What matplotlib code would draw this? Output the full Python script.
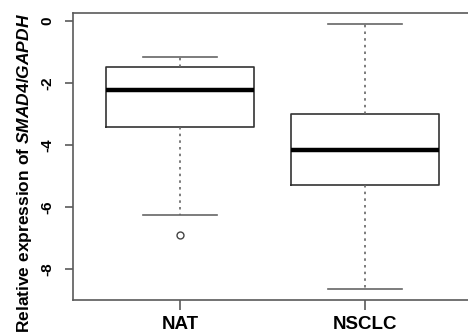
import matplotlib
matplotlib.use("Agg")
import matplotlib.pyplot as plt

plt.rcParams['font.family'] = ['Liberation Sans', 'DejaVu Sans']
plt.rcParams['mathtext.fontset'] = 'custom'
plt.rcParams['mathtext.it'] = 'Liberation Sans:italic:bold'
plt.rcParams['mathtext.rm'] = 'Liberation Sans:bold'

groups = ["NAT", "NSCLC"]
whisker_low = [-6.25, -8.65]
q1 = [-3.43, -5.27]
medians = [-2.24, -4.16]
q3 = [-1.49, -3.00]
whisker_high = [-1.15, -0.10]
outliers = [[-6.89], []]
yticks = [0, -2, -4, -6, -8]

stats = []
for i, name in enumerate(groups):
    stats.append({
        "label": name,
        "whislo": whisker_low[i],
        "q1": q1[i],
        "med": medians[i],
        "q3": q3[i],
        "whishi": whisker_high[i],
        "fliers": outliers[i],
    })

fig = plt.figure(figsize=(4.68, 3.35), dpi=100)
ax = fig.add_axes([0.1553, 0.1036, 0.8447, 0.858])

frame_col = "#5a5a5a"
ax.bxp(stats, positions=[1, 2], widths=0.8, showfliers=True,
       boxprops=dict(color="#333333", linewidth=1.2),
       medianprops=dict(color="black", linewidth=3.2, solid_capstyle="butt"),
       whiskerprops=dict(color="#666666", linewidth=1.2, linestyle=(0, (1.5, 2.5))),
       capprops=dict(color="#666666", linewidth=1.2),
       capwidths=0.4,
       flierprops=dict(marker="o", markersize=5, markerfacecolor="none",
                       markeredgecolor="#444444", markeredgewidth=1.0))

ax.set_xlim(0.42, 2.557)
ax.set_ylim(-9.0, 0.26)
ax.set_yticks(yticks)
ax.set_yticklabels([str(v) for v in yticks], rotation=90, va="center",
                   fontsize=11, fontweight="bold")
ax.set_xticks([1, 2])
ax.set_xticklabels(groups, fontsize=13.5, fontweight="bold")

for side in ["left", "top", "bottom"]:
    ax.spines[side].set_color(frame_col)
    ax.spines[side].set_linewidth(1.2)
ax.spines["right"].set_visible(False)
ax.tick_params(axis="y", length=6, width=1.2, color=frame_col, pad=7)
ax.tick_params(axis="x", length=7, width=1.2, color=frame_col, pad=4)

fig.text(0.052, 0.005, r"Relative expression of $SMAD4/GAPDH$", rotation=90,
         ha="center", va="bottom", fontsize=12.5, fontweight="bold")

fig.savefig("out.png", dpi=100)
